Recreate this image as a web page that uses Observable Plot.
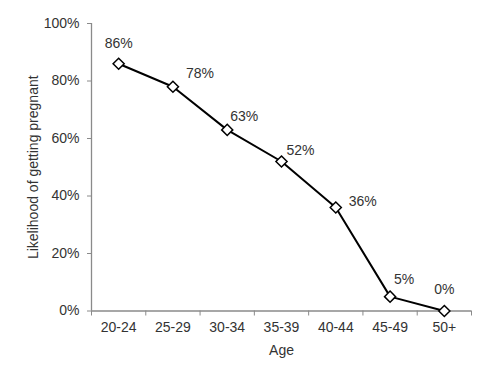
<!DOCTYPE html>
<html>
<head>
<meta charset="utf-8">
<script src="https://cdn.jsdelivr.net/npm/d3@7"></script>
<script src="https://cdn.jsdelivr.net/npm/@observablehq/plot@0.6"></script>
<style>
  html, body { margin: 0; padding: 0; background: #fff; }
  #chart svg { display: block; }
</style>
</head>
<body>
<div id="chart"></div>
<script>
const ageGroups = ["20-24", "25-29", "30-34", "35-39", "40-44", "45-49", "50+"];
const likelihood = [0.86, 0.78, 0.63, 0.52, 0.36, 0.05, 0.00];
const yTicks = [0, 0.2, 0.4, 0.6, 0.8, 1.0];

const data = ageGroups.map((age, i) => ({i, age, value: likelihood[i]}));

// label placement (layout, not data)
const labelPlacement = [
  {anchor: "middle", dx: 0, dy: -20},
  {anchor: "start", dx: 13, dy: -13},
  {anchor: "start", dx: 3, dy: -13},
  {anchor: "start", dx: 5, dy: -11},
  {anchor: "start", dx: 13, dy: -6},
  {anchor: "start", dx: 4, dy: -17},
  {anchor: "middle", dx: 0, dy: -21}
];

const axisColor = "#8a8a8a";
const textColor = "#333333";
const fs = 14;

const labelMarks = data.map((d, k) => Plot.text([d], {
  x: "i", y: "value",
  text: d => d3.format(".0%")(d.value),
  textAnchor: labelPlacement[k].anchor,
  dx: labelPlacement[k].dx,
  dy: labelPlacement[k].dy,
  fontSize: fs,
  fill: textColor
}));

const chart = Plot.plot({
  width: 502,
  height: 365,
  marginLeft: 91,
  marginRight: 31,
  marginTop: 23,
  marginBottom: 54.5,
  style: {fontFamily: "'Liberation Sans', Arial, sans-serif", fontSize: fs + "px", color: textColor, background: "#fff"},
  x: {type: "linear", domain: [-0.5, ageGroups.length - 0.5]},
  y: {domain: [0, 1]},
  marks: [
    Plot.ruleX([-0.5], {stroke: axisColor, strokeWidth: 1.3}),
    Plot.ruleY([0], {stroke: axisColor, strokeWidth: 1.3}),
    Plot.axisY({
      ticks: yTicks, tickFormat: d3.format(".0%"), tickSize: 4, tickPadding: 8,
      stroke: axisColor, fill: textColor, fontSize: fs,
      label: "Likelihood of getting pregnant", labelAnchor: "center", labelArrow: "none", labelOffset: 63
    }),
    Plot.axisX({
      ticks: d3.range(ageGroups.length), tickFormat: i => ageGroups[i], tickSize: 0, tickPadding: 11,
      fill: textColor, fontSize: fs,
      label: "Age", labelAnchor: "center", labelArrow: "none", labelOffset: 44
    }),
    Plot.axisX({
      ticks: d3.range(-0.5, ageGroups.length, 1), tickFormat: () => "", tickSize: 5,
      stroke: axisColor, label: null
    }),
    Plot.line(data, {x: "i", y: "value", stroke: "#000", strokeWidth: 2}),
    Plot.dot(data, {x: "i", y: "value", symbol: "diamond2", r: 5, fill: "#fff", stroke: "#000", strokeWidth: 1.5}),
    ...labelMarks
  ]
});

document.getElementById("chart").appendChild(chart);
</script>
</body>
</html>
